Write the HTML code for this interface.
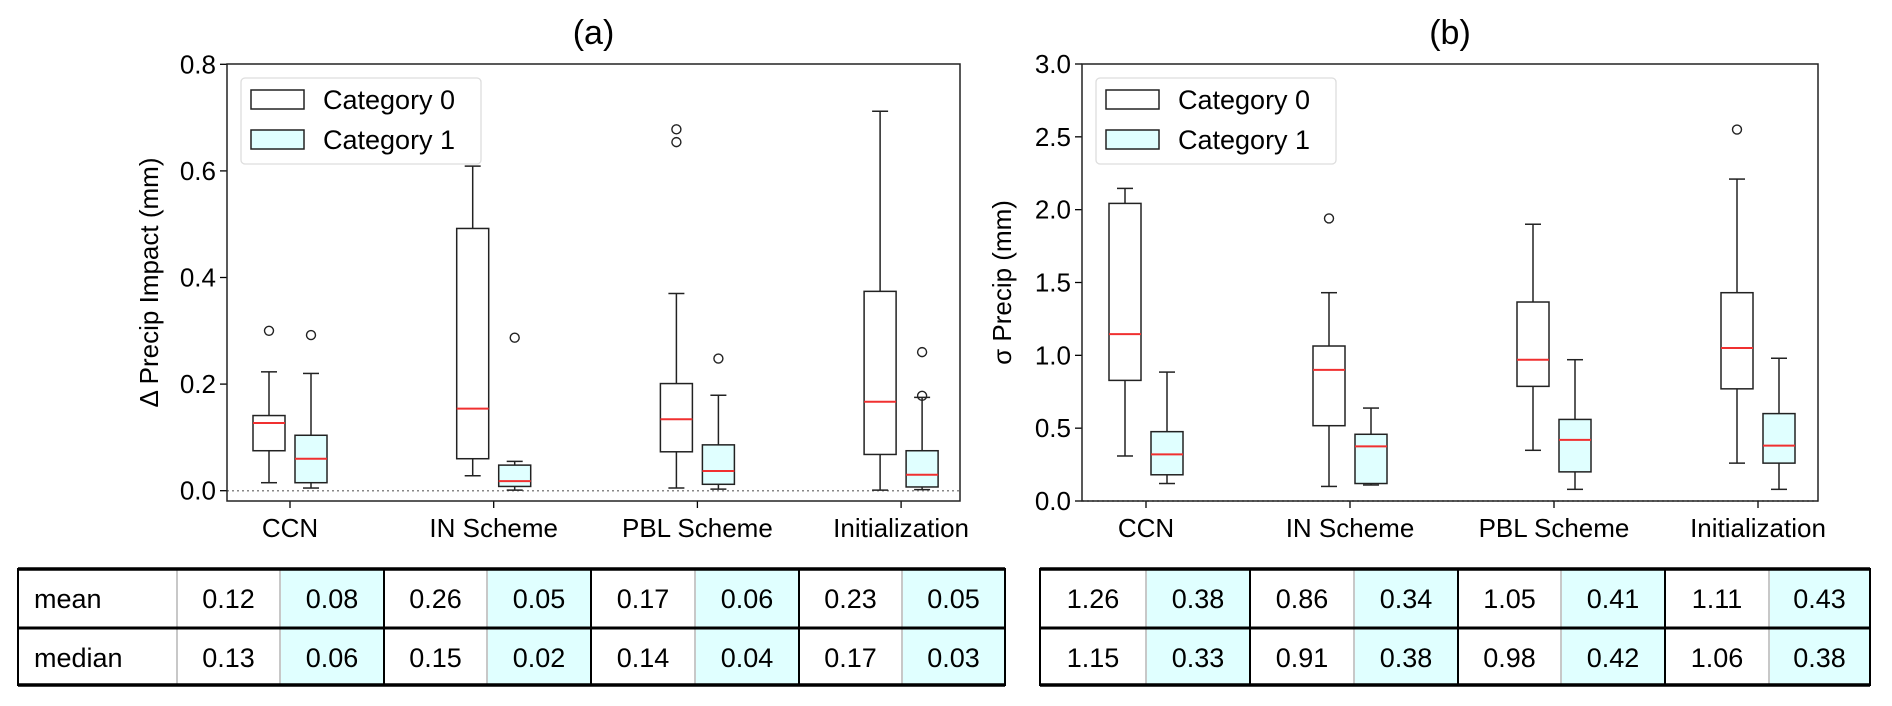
<!DOCTYPE html>
<html><head><meta charset="utf-8"><style>
html,body{margin:0;padding:0;background:#fff;}
svg{display:block;font-family:"Liberation Sans","DejaVu Sans",sans-serif;}
</style></head><body>
<svg id="fig" width="1892" height="706" viewBox="0 0 1892 706" xmlns="http://www.w3.org/2000/svg"></svg>
<script>
const categories = ["CCN","IN Scheme","PBL Scheme","Initialization"];
// panel a: [lowWhisker, q1, median, q3, highWhisker]
const aCat0 = [[0.015,0.075,0.127,0.141,0.223],[0.028,0.06,0.154,0.492,0.609],[0.005,0.073,0.134,0.201,0.37],[0.001,0.068,0.167,0.374,0.712]];
const aCat1 = [[0.005,0.015,0.06,0.104,0.22],[0.001,0.008,0.018,0.048,0.055],[0.003,0.012,0.037,0.086,0.179],[0.002,0.007,0.03,0.075,0.175]];
const aOut0 = [[0.30],[],[0.678,0.654],[]];
const aOut1 = [[0.292],[0.287],[0.248],[0.26,0.178]];
const aTicks = [0.0,0.2,0.4,0.6,0.8];
// panel b
const bCat0 = [[0.309,0.828,1.146,2.043,2.146],[0.10,0.517,0.90,1.064,1.43],[0.348,0.787,0.97,1.366,1.90],[0.26,0.77,1.05,1.43,2.21]];
const bCat1 = [[0.12,0.18,0.32,0.476,0.885],[0.11,0.12,0.375,0.458,0.638],[0.08,0.20,0.42,0.56,0.97],[0.08,0.26,0.38,0.60,0.98]];
const bOut0 = [[],[1.94],[],[2.55]];
const bOut1 = [[],[],[],[]];
const bTicks = [0.0,0.5,1.0,1.5,2.0,2.5,3.0];
// tables
const aMean = ["0.12","0.08","0.26","0.05","0.17","0.06","0.23","0.05"];
const aMedian = ["0.13","0.06","0.15","0.02","0.14","0.04","0.17","0.03"];
const bMean = ["1.26","0.38","0.86","0.34","1.05","0.41","1.11","0.43"];
const bMedian = ["1.15","0.33","0.91","0.38","0.98","0.42","1.06","0.38"];

const NS="http://www.w3.org/2000/svg";
const svg=document.getElementById('fig');
function el(tag,attrs,parent,text){const e=document.createElementNS(NS,tag);for(const k in attrs)e.setAttribute(k,attrs[k]);if(text!==undefined)e.textContent=text;(parent||svg).appendChild(e);return e;}

function panel(cfg){
  const g=el('g',{});
  
  
  const y=v=>cfg.y0-(v-cfg.vmin)*(cfg.y0-cfg.y1)/(cfg.vmax-cfg.vmin);
  const x=i=>cfg.xt0+i*cfg.xstep;
  if(cfg.zeroLine){const zl=el('line',{x1:cfg.L,x2:cfg.R,y1:y(0),y2:y(0),stroke:'#888','stroke-width':1.5,'stroke-dasharray':'2,3'},g);
    }
  cfg.ticks.forEach(t=>{
    el('line',{x1:cfg.L-7,x2:cfg.L,y1:y(t),y2:y(t),stroke:'#000','stroke-width':1.3},g);
    const tl=el('text',{x:cfg.L-11,y:y(t)+9,'font-size':26,'text-anchor':'end'},g,t.toFixed(1));
    
  });
  categories.forEach((c,i)=>{
    el('line',{x1:x(i),x2:x(i),y1:cfg.B,y2:cfg.B+7,stroke:'#000','stroke-width':1.3},g);
    const xl=el('text',{x:x(i),y:cfg.B+36,'font-size':26,'text-anchor':'middle'},g,c);
    
    [[cfg.c0,cfg.o0,-21,'#fff'],[cfg.c1,cfg.o1,21,'#e0ffff']].forEach(([d,o,off,fill],k)=>{
      const s=d[i],cx=x(i)+off,hw=16;
      const bg=el('g',{},g);
      
      
      el('line',{x1:cx,x2:cx,y1:y(s[0]),y2:y(s[1]),stroke:'#222','stroke-width':1.5},bg);
      el('line',{x1:cx,x2:cx,y1:y(s[3]),y2:y(s[4]),stroke:'#222','stroke-width':1.5},bg);
      el('line',{x1:cx-8,x2:cx+8,y1:y(s[0]),y2:y(s[0]),stroke:'#222','stroke-width':1.5},bg);
      el('line',{x1:cx-8,x2:cx+8,y1:y(s[4]),y2:y(s[4]),stroke:'#222','stroke-width':1.5},bg);
      el('rect',{x:cx-hw,y:y(s[3]),width:2*hw,height:y(s[1])-y(s[3]),fill:fill,stroke:'#222','stroke-width':1.5},bg);
      el('line',{x1:cx-hw,x2:cx+hw,y1:y(s[2]),y2:y(s[2]),stroke:'#f03030','stroke-width':2},bg);
      o[i].forEach(v=>el('circle',{cx:cx,cy:y(v),r:4.5,fill:'none',stroke:'#222','stroke-width':1.4},bg));
    });
  });
  const fr=el('rect',{x:cfg.L,y:cfg.T,width:cfg.R-cfg.L,height:cfg.B-cfg.T,fill:'none',stroke:'#222','stroke-width':1.5},g);
  
  const tt=el('text',{x:(cfg.L+cfg.R)/2,y:44,'font-size':34,'text-anchor':'middle'},g,cfg.title);
  
  const yl=el('text',{x:0,y:0,'font-size':26,'text-anchor':'middle',transform:`translate(${cfg.ylx},${(cfg.T+cfg.B)/2}) rotate(-90)`},g,cfg.ylabel);
  
  const lg=el('g',{},g);
  
  const lx=cfg.L+14;
  el('rect',{x:lx,y:78,width:240,height:86,rx:4,fill:'#fff',stroke:'#ddd','stroke-width':1.3},lg);
  [['Category 0','#fff',90],['Category 1','#e0ffff',130]].forEach(([t,f,yy])=>{
    const le=el('g',{},lg);
    
    el('rect',{x:lx+10,y:yy,width:53,height:19,fill:f,stroke:'#222','stroke-width':1.5},le);
    el('text',{x:lx+82,y:yy+19,'font-size':27},le,t);
  });
}
panel({name:'panel-a',title:'(a)',ylabel:'Δ Precip Impact (mm)',L:227,R:960,T:64,B:501,y0:490.7,y1:64.3,vmin:0,vmax:0.8,xt0:290,xstep:203.7,ticks:aTicks,c0:aCat0,c1:aCat1,o0:aOut0,o1:aOut1,ylx:158,zeroLine:true});
panel({name:'panel-b',title:'(b)',ylabel:'σ Precip (mm)',L:1082,R:1818,T:64,B:501,y0:501,y1:64,vmin:0,vmax:3,xt0:1146,xstep:204,ticks:bTicks,c0:bCat0,c1:bCat1,o0:bOut0,o1:bOut1,ylx:1011,zeroLine:true});

function table(name,cols,rows){
  const g=el('g',{});
  
  const T=569,M=628,B=685;
  for(let c=0;c<cols.length-1;c++){
    const fillc=((c-rows.start)%2===1)&&c>=rows.start?'#e0ffff':'#fff';
    el('rect',{x:cols[c],y:T,width:cols[c+1]-cols[c],height:B-T,fill:fillc},g);
  }
  for(let c=1;c<cols.length-1;c++){
    const black=rows.blackAt.includes(c);
    el('line',{x1:cols[c],x2:cols[c],y1:T,y2:B,stroke:black?'#000':'#c8c8c8','stroke-width':2},g);
  }
  el('line',{x1:cols[0],x2:cols[cols.length-1],y1:M,y2:M,stroke:'#000','stroke-width':3},g);
  el('rect',{x:cols[0],y:T,width:cols[cols.length-1]-cols[0],height:B-T,fill:'none',stroke:'#000','stroke-width':2},g);
  el('line',{x1:cols[0],x2:cols[cols.length-1],y1:T,y2:T,stroke:'#000','stroke-width':3.5},g);
  el('line',{x1:cols[0],x2:cols[cols.length-1],y1:B,y2:B,stroke:'#000','stroke-width':3.5},g);
  [[rows.r1,598],[rows.r2,657]].forEach(([vals,yy],ri)=>{
    vals.forEach((v,k)=>{
      const c=k+rows.start;
      const t=el('text',{x:(cols[c]+cols[c+1])/2,y:yy+10,'font-size':27,'text-anchor':'middle'},g,v);
      
    });
    if(rows.label){const t=el('text',{x:cols[0]+16,y:yy+10,'font-size':27},g,ri?'median':'mean');
      }
  });
}
table('table-a',[18,177,280,384,487,591,695,799,902,1005],{label:true,start:1,r1:aMean,r2:aMedian,blackAt:[3,5,7]});
table('table-b',[1040,1146,1250,1354,1458,1561,1665,1769,1870],{label:false,start:0,r1:bMean,r2:bMedian,blackAt:[2,4,6]});
</script>
</body></html>
